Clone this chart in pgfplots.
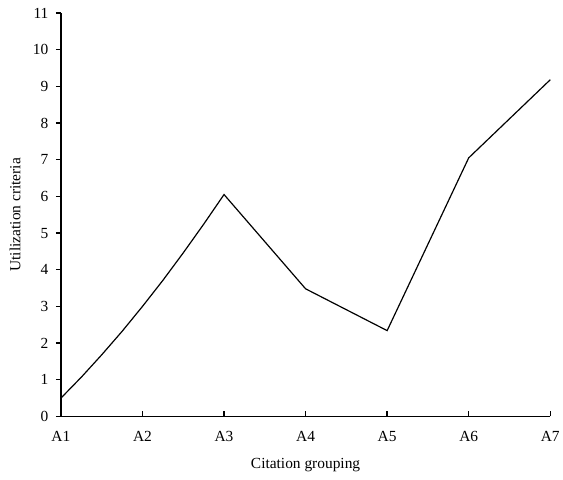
\documentclass[border=0pt]{standalone}
\usepackage{pgfplots}
\pgfplotsset{compat=1.18}
\usepackage{fontspec}
\setmainfont{Liberation Serif}

\begin{document}
\begin{tikzpicture}
  \begin{axis}[
    scale only axis, width=490bp, height=404bp,
    axis lines=left, axis line style={-, line width=1.4pt},
    xmin=1, xmax=7, ymin=0, ymax=11,
    xtick={1,...,7}, xticklabels={A1,A2,A3,A4,A5,A6,A7},
    ytick={0,...,11},
    tick align=outside, major tick length=5bp,
    tick style={black, line width=1.4pt},
    xtick style={yshift=5bp},
    /pgf/number format/assume math mode=true,
    tick label style={font=\fontsize{15.5}{17}\selectfont},
    xticklabel style={yshift=-6bp},
    yticklabel style={xshift=-4bp},
    xlabel={Citation grouping}, ylabel={Utilization criteria},
    every axis x label/.style={at={(rel axis cs:0.5,0)}, anchor=center,
      yshift=-49bp, font=\fontsize{15.5}{17}\selectfont},
    every axis y label/.style={at={(rel axis cs:0,0.5)}, anchor=center,
      xshift=-46bp, rotate=90, font=\fontsize{15.5}{17}\selectfont},
    clip=false,
  ]
    \addplot[black, line width=1.2pt] coordinates {
      (1,0.5) (1.25,1.07) (1.5,1.68) (1.75,2.32) (2,3.0)
      (2.25,3.71) (2.5,4.46) (2.75,5.24) (3,6.05)
      (4,3.48) (5,2.34) (6,7.05) (7,9.18)};
    % page margins as in the reference
    \path (rel axis cs:0,0) ++(-61bp,-63bp) (rel axis cs:1,1) ++(12bp,13bp);
  \end{axis}
\end{tikzpicture}
\end{document}
